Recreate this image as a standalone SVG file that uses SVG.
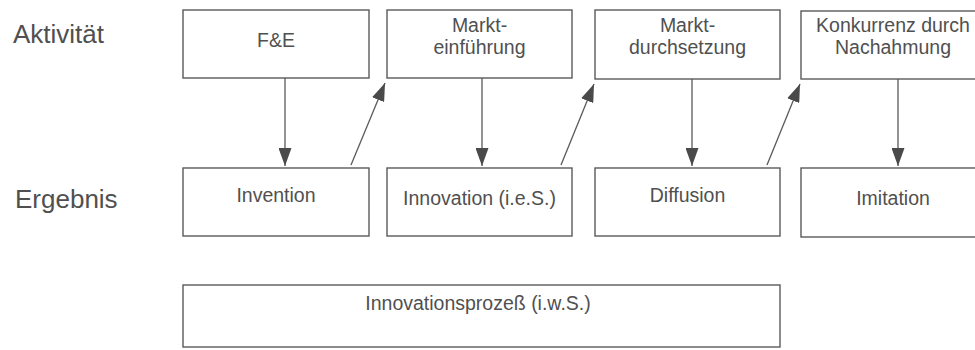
<svg xmlns="http://www.w3.org/2000/svg" width="975" height="350" viewBox="0 0 975 350">
<style>
  .box { fill: #ffffff; stroke: #5a5a5a; stroke-width: 1.4; }
  .t { font-family: "Liberation Sans", Arial, sans-serif; font-size: 19.5px; fill: #505050; text-anchor: middle; }
  .lbl { font-family: "Liberation Sans", Arial, sans-serif; font-size: 26px; fill: #505050; }
  .con { stroke: #5a5a5a; stroke-width: 1.3; fill: none; marker-end: url(#ah); }
</style>
<defs>
  <marker id="ah" viewBox="0 0 18 13" refX="18" refY="6.5" markerWidth="18" markerHeight="13" markerUnits="userSpaceOnUse" orient="auto">
    <path d="M0,0 L18,6.5 L0,13 Z" fill="#4a4a4a"/>
  </marker>
</defs>
<rect width="975" height="350" fill="#ffffff"/>

<g id="labels">
  <text class="lbl" x="13" y="43">Aktivität</text>
  <text class="lbl" x="15" y="208">Ergebnis</text>
</g>

<g id="fe">
  <rect class="box" x="183" y="10" width="186" height="68"/>
  <text class="t" x="276" y="47">F&amp;E</text>
</g>
<g id="markteinfuehrung">
  <rect class="box" x="387" y="10" width="185" height="68"/>
  <text class="t" x="479.5" y="32">Markt-</text>
  <text class="t" x="479.5" y="54">einführung</text>
</g>
<g id="marktdurchsetzung">
  <rect class="box" x="595" y="10" width="185" height="69"/>
  <text class="t" x="687.5" y="32">Markt-</text>
  <text class="t" x="687.5" y="54">durchsetzung</text>
</g>
<g id="konkurrenz">
  <rect class="box" x="801" y="11" width="185" height="68"/>
  <text class="t" x="893" y="32">Konkurrenz durch</text>
  <text class="t" x="893" y="54">Nachahmung</text>
</g>

<g id="invention">
  <rect class="box" x="183" y="168" width="186" height="68"/>
  <text class="t" x="276" y="202">Invention</text>
</g>
<g id="innovation">
  <rect class="box" x="387" y="168" width="185" height="68"/>
  <text class="t" x="479.5" y="205">Innovation (i.e.S.)</text>
</g>
<g id="diffusion">
  <rect class="box" x="595" y="168" width="185" height="68"/>
  <text class="t" x="687.5" y="202">Diffusion</text>
</g>
<g id="imitation">
  <rect class="box" x="801" y="168" width="185" height="69"/>
  <text class="t" x="893" y="205">Imitation</text>
</g>

<g id="innovationsprozess">
  <rect class="box" x="183" y="285" width="597" height="62"/>
  <text class="t" x="478" y="310">Innovationsprozeß (i.w.S.)</text>
</g>

<g id="connectors">
  <line class="con" x1="285" y1="78" x2="285" y2="166"/>
  <line class="con" x1="351" y1="165" x2="385" y2="83"/>
  <line class="con" x1="482" y1="78" x2="482" y2="166"/>
  <line class="con" x1="561" y1="165" x2="594" y2="84"/>
  <line class="con" x1="692" y1="79" x2="692" y2="166"/>
  <line class="con" x1="767" y1="165" x2="800" y2="84"/>
  <line class="con" x1="898" y1="79" x2="898" y2="166"/>
</g>
</svg>
